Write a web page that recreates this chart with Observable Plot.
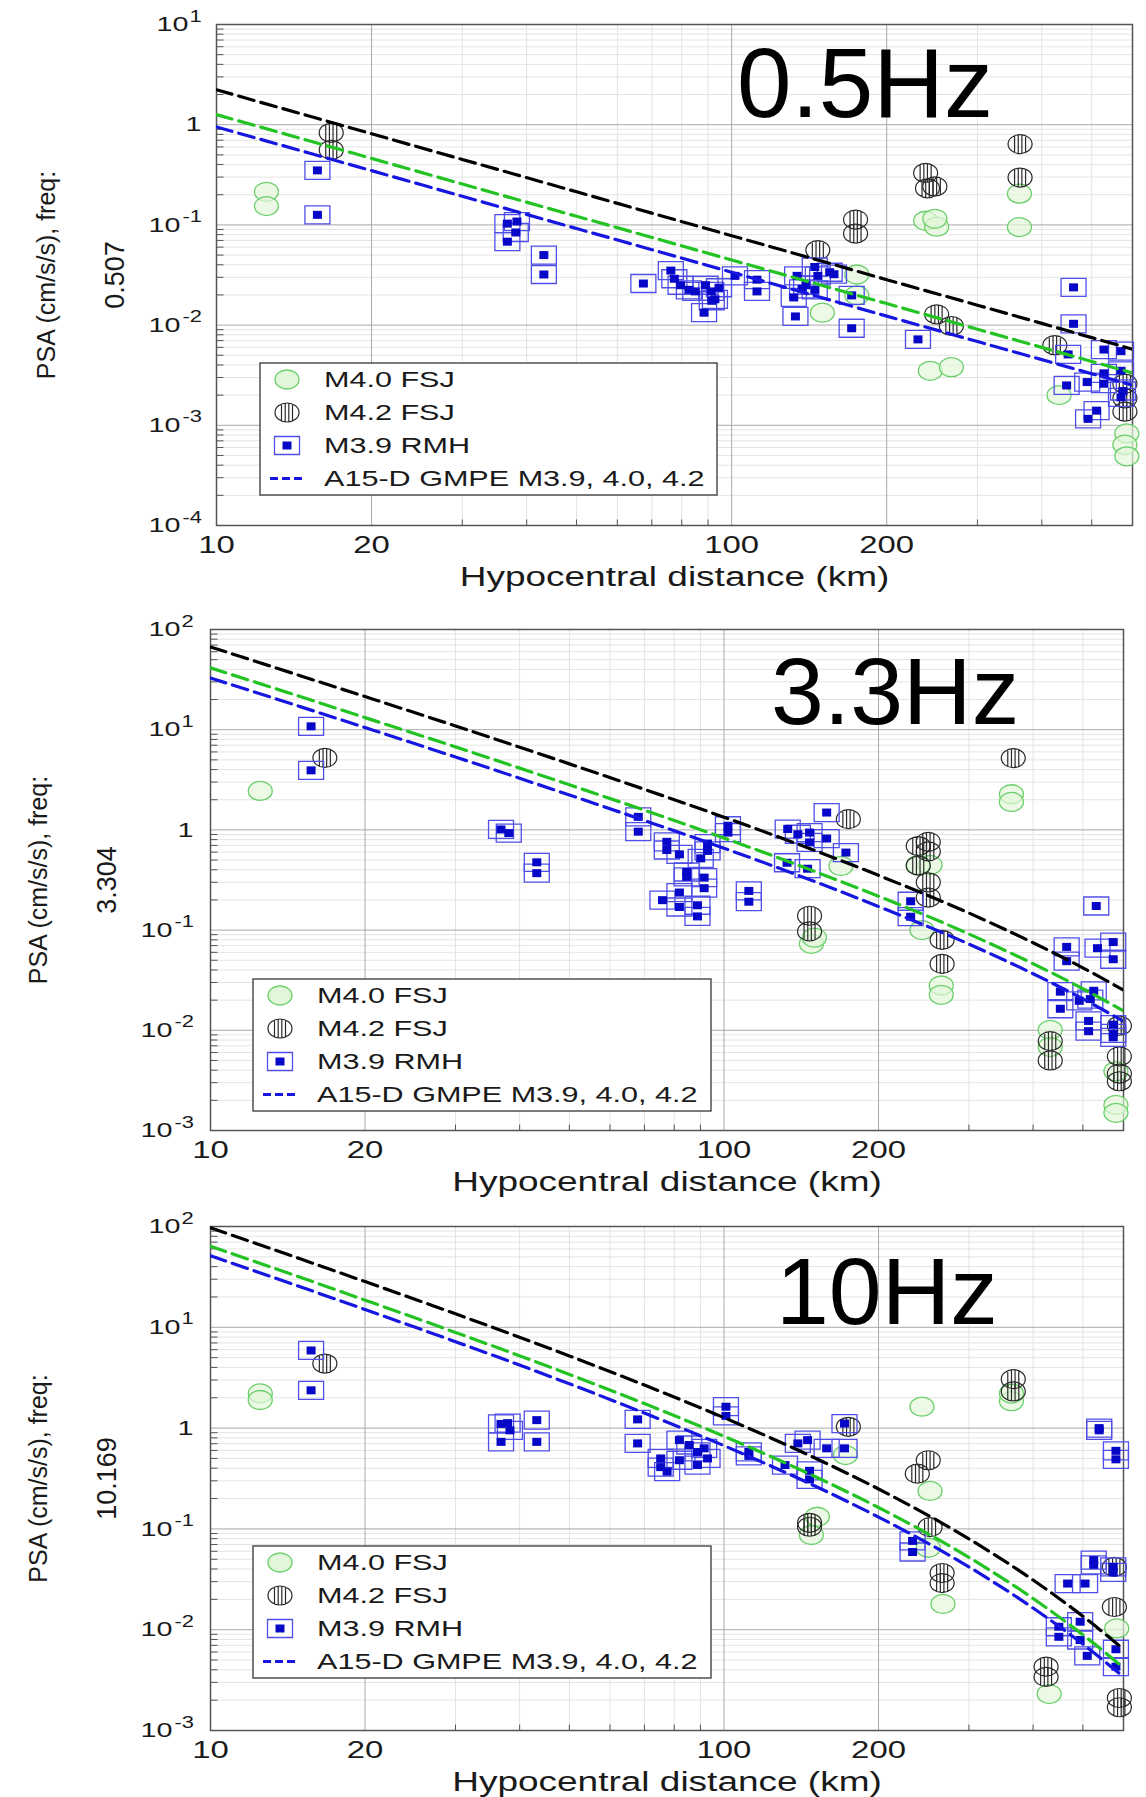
<!DOCTYPE html>
<html><head><meta charset="utf-8">
<script src="https://cdn.jsdelivr.net/npm/d3@7"></script>
<script src="https://cdn.jsdelivr.net/npm/@observablehq/plot@0.6"></script>
<style>
html,body{margin:0;padding:0;background:#fff;}
#root{position:relative;width:1146px;height:1797px;overflow:hidden;font-family:"Liberation Sans",Arial,sans-serif;}
.panel{position:absolute;left:0;}
#overlay{position:absolute;left:0;top:0;pointer-events:none;}
</style></head><body><div id="root"></div>
<script>
// ---------------- DATA ----------------
const xTicks = [10, 20, 100, 200];
const xTickLabels = ["10", "20", "100", "200"];
const xMinorTicks = [30, 40, 50, 60, 70, 80, 90, 300, 400, 500];
const yTicks05 = [1e-4, 1e-3, 1e-2, 1e-1, 1, 10];
const yTicks33 = [1e-3, 1e-2, 1e-1, 1, 10, 100];
const yTicks10 = [1e-3, 1e-2, 1e-1, 1, 10, 100];
const freqLabels = ["0.507", "3.304", "10.169"];
const panelTitles = ["0.5Hz", "3.3Hz", "10Hz"];
const seriesNames = ["M4.0 FSJ", "M4.2 FSJ", "M3.9 RMH", "A15-D GMPE M3.9, 4.0, 4.2"];

// GMPE curves (A15-D), values read at these distances (km)
const gmpeDist = [10, 15, 20, 30, 50, 70, 100, 150, 200, 300, 400, 500, 600];
const gmpe05_M42 = [2.23, 1.235, 0.812, 0.450, 0.214, 0.131, 0.078, 0.0433, 0.0284, 0.0158, 0.0104, 0.0075, 0.00575];
const gmpe05_M40 = [1.26, 0.700, 0.461, 0.256, 0.122, 0.075, 0.0447, 0.0248, 0.0164, 0.00909, 0.00599, 0.00434, 0.00333];
const gmpe05_M39 = [0.95, 0.528, 0.348, 0.193, 0.092, 0.0566, 0.0337, 0.0187, 0.0123, 0.00685, 0.00452, 0.00327, 0.00251];
const gmpe33_M42 = [67, 34.4, 21.4, 10.9, 4.56, 2.54, 1.34, 0.625, 0.352, 0.148, 0.0748, 0.042, 0.0252];
const gmpe33_M40 = [41.4, 21.3, 13.2, 6.74, 2.82, 1.57, 0.83, 0.386, 0.218, 0.0915, 0.0462, 0.026, 0.0156];
const gmpe33_M39 = [32.8, 16.9, 10.5, 5.34, 2.23, 1.24, 0.657, 0.306, 0.172, 0.0725, 0.0367, 0.0206, 0.0123];
const gmpe10_M42 = [97, 47.5, 28.4, 13.6, 5.2, 2.67, 1.27, 0.508, 0.249, 0.0796, 0.0311, 0.0136, 0.0064];
const gmpe10_M40 = [63.6, 31.2, 18.6, 8.9, 3.41, 1.75, 0.83, 0.333, 0.163, 0.0522, 0.0204, 0.0089, 0.0042];
const gmpe10_M39 = [51.2, 25.1, 15.0, 7.2, 2.75, 1.41, 0.67, 0.268, 0.131, 0.042, 0.0164, 0.0072, 0.0034];

// Observations [hypocentral distance km, PSA cm/s/s]
const obs05_M40 = [[12.5,0.214],[12.5,0.154],[150,0.0133],[175,0.032],[175,0.0198],[238,0.110],[250,0.096],[248,0.115],[362,0.205],[362,0.095],[243,0.0035],[267,0.0038],[432,0.0020],[585,0.00083],[580,0.00064],[585,0.00049]];
const obs05_M42 = [[16.7,0.83],[16.7,0.56],[147,0.056],[174,0.113],[174,0.082],[238,0.33],[240,0.232],[248,0.242],[363,0.64],[363,0.297],[250,0.0128],[267,0.0098],[424,0.0063],[580,0.0026],[580,0.00186],[580,0.00137]];
const obs05_M39 = [[15.7,0.35],[15.7,0.126],[36.7,0.103],[38.3,0.108],[38.1,0.084],[36.7,0.068],[43.2,0.050],[43.2,0.032],[67.4,0.026],[76.2,0.035],[77.4,0.029],[79.6,0.025],[82.6,0.0225],[85,0.0217],[89,0.025],[91.3,0.0217],[92.8,0.0181],[88.4,0.0133],[94.5,0.0236],[91.5,0.0175],[101.5,0.031],[112,0.0284],[112,0.0217],[132,0.0189],[133,0.0122],[134,0.031],[137,0.023],[139.5,0.025],[145,0.038],[147,0.031],[155,0.0337],[158,0.0322],[145,0.0225],[171,0.0198],[171,0.0093],[230,0.0072],[461,0.0238],[461,0.0103],[450,0.0051],[447,0.0025],[528,0.0057],[570,0.0055],[490,0.0027],[528,0.0026],[575,0.0022],[570,0.0019],[511,0.0014],[492,0.00116],[528,0.0033],[570,0.0035]];

const obs33_M40 = [[12.5,2.45],[148,0.073],[150,0.084],[169,0.437],[363,2.27],[363,1.9],[252,0.447],[239,0.447],[243,0.1],[265,0.028],[265,0.0226],[432,0.0101],[432,0.0068],[580,0.0039],[580,0.0018],[580,0.0015]];
const obs33_M42 = [[16.7,5.23],[174.7,1.28],[146.8,0.139],[146.8,0.097],[239,0.69],[250,0.76],[239,0.44],[250,0.61],[250,0.30],[250,0.211],[266,0.080],[266,0.046],[366,5.2],[432,0.0078],[432,0.0050],[589,0.0111],[589,0.0055],[589,0.0037],[589,0.0031]];
const obs33_M39 = [[15.7,10.8],[15.7,3.93],[36.8,1.01],[38.1,0.93],[43.2,0.475],[43.2,0.37],[68.1,1.35],[68.1,0.96],[77.4,0.76],[77.4,0.63],[81.9,0.57],[84.6,0.38],[84.6,0.34],[75.9,0.199],[81.9,0.237],[81.9,0.17],[88.8,0.177],[88.8,0.137],[91.5,0.334],[91.5,0.262],[92.9,0.73],[92.9,0.617],[90.1,0.52],[101.8,1.1],[101.8,0.94],[111.8,0.246],[111.8,0.192],[133.1,1.02],[139.3,0.905],[146.8,0.94],[146.8,0.75],[158.5,1.49],[158.5,0.82],[132.7,0.47],[145.5,0.41],[172.8,0.594],[231,0.194],[231,0.136],[531,0.174],[465,0.068],[465,0.049],[534,0.066],[573,0.076],[573,0.0512],[452,0.0243],[452,0.0164],[492,0.0197],[517,0.0205],[525,0.0248],[513,0.0124],[513,0.0098],[573,0.0114],[573,0.0093],[573,0.0085]];

const obs10_M40 = [[12.5,2.21],[12.5,1.9],[148,0.087],[152,0.132],[172.5,0.54],[243,1.63],[363,1.85],[363,2.2],[252,0.238],[250,0.065],[267,0.018],[430,0.0023],[582,0.0103]];
const obs10_M42 = [[16.7,4.37],[146.8,0.115],[146.8,0.105],[174.7,1.03],[366,3.06],[366,2.31],[250,0.48],[238,0.353],[252,0.104],[266,0.0365],[266,0.029],[424,0.0043],[424,0.0034],[576,0.0168],[576,0.042],[589,0.0021],[589,0.0017]];
const obs10_M39 = [[15.7,5.89],[15.7,2.37],[36.8,1.1],[36.8,0.73],[37.9,1.12],[38.3,0.95],[43.2,1.2],[43.2,0.73],[67.9,1.22],[67.9,0.705],[75.3,0.50],[75.3,0.41],[77.5,0.37],[81.9,0.76],[81.9,0.48],[85.6,0.68],[88.8,0.58],[88.8,0.43],[91.5,0.63],[92.9,0.5],[100.9,1.63],[100.9,1.32],[111.8,0.58],[111.8,0.53],[131.5,0.43],[139.3,0.705],[145.5,0.76],[146.8,0.377],[146.8,0.31],[158.5,0.63],[171.7,1.11],[171.7,0.63],[233,0.076],[233,0.059],[538,1.0],[538,0.95],[580,0.595],[580,0.49],[467,0.0287],[525,0.049],[525,0.044],[505,0.0287],[573,0.042],[573,0.037],[449,0.0107],[449,0.0085],[494,0.0120],[494,0.0079],[510,0.0055],[580,0.0064],[580,0.0043]];

// ---------------- STYLE ----------------
const FONT = '"Liberation Sans", Arial, sans-serif';
const SX = 1.37; // horizontal stretch of the original figure's text
const C = {green: "#22c322", greenStroke: "#6ccf6c", greenFill: "#e2f6da", black: "#000000", hatch: "#2a2a2a",
           blue: "#1616e0", boxStroke: "#4f4fe8", inner: "#0707c8", major: "#a9a9a9", minor: "#e4e4e4", frame: "#555"};

// symbols
function ellipsePath(ctx, rx, ry) {
  const k = 0.5523;
  ctx.moveTo(rx, 0);
  ctx.bezierCurveTo(rx, k*ry, k*rx, ry, 0, ry);
  ctx.bezierCurveTo(-k*rx, ry, -rx, k*ry, -rx, 0);
  ctx.bezierCurveTo(-rx, -k*ry, -k*rx, -ry, 0, -ry);
  ctx.bezierCurveTo(k*rx, -ry, rx, -k*ry, rx, 0);
  ctx.closePath();
}
const RX = 12, RY = 9.5;
const circleSym = {draw(ctx) { ellipsePath(ctx, RX, RY); }};
const hatchSym = {draw(ctx) {
  ellipsePath(ctx, RX, RY);
  for (const x of [-5.5, -1.8, 1.8, 5.5]) { const h = RY*Math.sqrt(1 - (x/RX)**2); ctx.moveTo(x, -h); ctx.lineTo(x, h); }
}};
const boxSym = {draw(ctx) { ctx.rect(-12.5, -9, 25, 18); }};
const innerSym = {draw(ctx) { ctx.rect(-4.5, -4, 9, 8); }};
const tickRightSym = {draw(ctx) { ctx.moveTo(0, 0); ctx.lineTo(7, 0); }};
const tickUpSym = {draw(ctx) { ctx.moveTo(0, 0); ctx.lineTo(0, -6); }};

function minorY(lo, hi) {
  const out = [];
  for (let e = Math.round(Math.log10(lo)); e < Math.round(Math.log10(hi)); e++)
    for (let m = 2; m <= 9; m++) out.push(m * Math.pow(10, e));
  return out;
}

const panels = [
  {top: 0, height: 600, mt: 24, mb: 75, ml: 216, mr: 14, yTicks: yTicks05, yShift: 0,
   g: [gmpe05_M42, gmpe05_M40, gmpe05_M39], obs: [obs05_M40, obs05_M42, obs05_M39], freq: freqLabels[0],
   title: panelTitles[0], titleX: 737, titleY: 117, titleSize: 98, legend: {x: 260, y: 363, w: 457, h: 132}},
  {top: 600, height: 600, mt: 29, mb: 70, ml: 210, mr: 23, yTicks: yTicks33, yShift: -2,
   g: [gmpe33_M42, gmpe33_M40, gmpe33_M39], obs: [obs33_M40, obs33_M42, obs33_M39], freq: freqLabels[1],
   title: panelTitles[1], titleX: 771, titleY: 724, titleSize: 95, legend: {x: 253, y: 979, w: 458, h: 132}},
  {top: 1200, height: 597, mt: 26, mb: 67, ml: 210, mr: 23, yTicks: yTicks10, yShift: -2,
   g: [gmpe10_M42, gmpe10_M40, gmpe10_M39], obs: [obs10_M40, obs10_M42, obs10_M39], freq: freqLabels[2],
   title: panelTitles[2], titleX: 776, titleY: 1324, titleSize: 95, legend: {x: 253, y: 1546, w: 458, h: 132}}
];

const root = document.getElementById("root");

panels.forEach(p => {
  const yDom = [p.yTicks[0], p.yTicks[p.yTicks.length - 1]];
  const yMinor = minorY(yDom[0], yDom[1]);
  const lineColors = [C.black, C.green, C.blue];
  const lines = p.g.map((vals, i) => gmpeDist.map((d, j) => ({d, v: vals[j], k: i})));
  const one = p.yTicks.filter(t => Math.abs(t - 1) < 1e-12);
  const pos = p.yTicks.filter(t => t > 1.5);
  const neg = p.yTicks.filter(t => t < 0.9);
  const exp = t => String(Math.round(Math.log10(t)));
  const s = p.yShift;
  const tickTxt = {x: () => 10, y: d => d, fontSize: 21, fill: "#1a1a1a", lineAnchor: "middle"};

  const chart = Plot.plot({
    width: 1146, height: p.height,
    marginTop: p.mt, marginBottom: p.mb, marginLeft: p.ml, marginRight: p.mr,
    x: {type: "log", domain: [10, 600], axis: null},
    y: {type: "log", domain: yDom, axis: null},
    style: {fontFamily: FONT, background: "transparent", overflow: "visible", color: "#1a1a1a"},
    marks: [
      Plot.ruleY(yMinor, {stroke: C.minor, strokeWidth: 1}),
      Plot.ruleX(xMinorTicks, {stroke: C.minor, strokeWidth: 1}),
      Plot.ruleY(p.yTicks, {stroke: C.major, strokeWidth: 1}),
      Plot.ruleX(xTicks.slice(1), {stroke: C.major, strokeWidth: 1}),
      Plot.dot(yMinor, {x: () => 10, y: d => d, symbol: tickRightSym, stroke: C.frame, strokeWidth: 1}),
      Plot.dot(xMinorTicks, {x: d => d, y: () => yDom[0], symbol: tickUpSym, stroke: C.frame, strokeWidth: 1}),
      Plot.frame({stroke: C.frame, strokeWidth: 1.5}),
      // observations
      Plot.dot(p.obs[0], {x: d => d[0], y: d => d[1], symbol: circleSym, fill: C.greenFill, fillOpacity: 0.7, stroke: C.greenStroke, strokeWidth: 1.3}),
      Plot.dot(p.obs[1], {x: d => d[0], y: d => d[1], symbol: hatchSym, fill: "none", stroke: C.hatch, strokeWidth: 1.2}),
      Plot.dot(p.obs[2], {x: d => d[0], y: d => d[1], symbol: boxSym, fill: "none", stroke: C.boxStroke, strokeWidth: 1.3}),
      Plot.dot(p.obs[2], {x: d => d[0], y: d => d[1], symbol: innerSym, fill: C.inner, stroke: "none"}),
      // GMPE lines
      ...lines.map((rows, i) => Plot.line(rows, {x: "d", y: "v", stroke: lineColors[i], strokeWidth: 3.2,
        strokeDasharray: "16,7", curve: "monotone-x", clip: true})),
      // y tick labels
      Plot.text(one, {...tickTxt, text: () => "1", textAnchor: "end", dx: -15 + s}),
      Plot.text(pos, {...tickTxt, text: () => "10", textAnchor: "end", dx: -28 + s}),
      Plot.text(pos, {...tickTxt, text: exp, textAnchor: "start", dx: -27 + s, dy: -8, fontSize: 16}),
      Plot.text(neg, {...tickTxt, text: () => "10", textAnchor: "end", dx: -36 + s}),
      Plot.text(neg, {...tickTxt, text: exp, textAnchor: "start", dx: -34 + s, dy: -8, fontSize: 16}),
      // x tick labels
      Plot.text(xTicks, {x: d => d, y: () => yDom[0], text: (d, i) => xTickLabels[i], textAnchor: "middle", lineAnchor: "middle", dy: 20, fontSize: 24, fill: "#1a1a1a"}),
      // axis titles
      Plot.text(["Hypocentral distance (km)"], {frameAnchor: "bottom", text: d => d, textAnchor: "middle", lineAnchor: "middle", dy: 52, fontSize: 27, fill: "#1a1a1a"}),
      Plot.text(["PSA (cm/s/s), freq:"], {frameAnchor: "left", text: d => d, rotate: -90, textAnchor: "middle", lineAnchor: "middle", dx: -170 + s, fontSize: 25, fill: "#1a1a1a"}),
      Plot.text([p.freq], {frameAnchor: "left", text: d => d, rotate: -90, textAnchor: "middle", lineAnchor: "middle", dx: -101 + s, fontSize: 27, fill: "#1a1a1a"})
    ]
  });
  const div = document.createElement("div");
  div.className = "panel";
  div.style.top = p.top + "px";
  div.appendChild(chart);
  root.appendChild(div);
  chart.querySelectorAll("text").forEach(t => {
    const tr = t.getAttribute("transform");
    if (!tr || tr.includes("rotate")) return;
    t.setAttribute("transform", tr + ` scale(${SX},1)`);
  });
});

// ---------------- OVERLAY: legends and frequency labels ----------------
const ov = d3.select(root).append("svg").attr("id", "overlay").attr("width", 1146).attr("height", 1797)
  .style("font-family", FONT);

panels.forEach(p => {
  const L = p.legend;
  const g = ov.append("g").attr("transform", `translate(${L.x},${L.y})`);
  g.append("rect").attr("width", L.w).attr("height", L.h).attr("fill", "#fff").attr("stroke", "#444").attr("stroke-width", 1.4);
  const rows = [16.5, 49.5, 82.5, 115.5];
  const sx = 27, tx = 64;
  const sym = (type) => d3.symbol().type(type)();
  g.append("path").attr("transform", `translate(${sx},${rows[0]})`).attr("d", sym(circleSym))
    .attr("fill", C.greenFill).attr("stroke", C.greenStroke).attr("stroke-width", 1.3);
  g.append("path").attr("transform", `translate(${sx},${rows[1]})`).attr("d", sym(hatchSym))
    .attr("fill", "none").attr("stroke", C.hatch).attr("stroke-width", 1.2);
  g.append("path").attr("transform", `translate(${sx},${rows[2]})`).attr("d", sym(boxSym))
    .attr("fill", "none").attr("stroke", C.boxStroke).attr("stroke-width", 1.3);
  g.append("path").attr("transform", `translate(${sx},${rows[2]})`).attr("d", sym(innerSym)).attr("fill", C.inner);
  g.append("line").attr("x1", sx - 17).attr("x2", sx + 16).attr("y1", rows[3]).attr("y2", rows[3])
    .attr("stroke", C.blue).attr("stroke-width", 3).attr("stroke-dasharray", "8,4");
  seriesNames.forEach((name, i) => {
    g.append("text").attr("transform", `translate(${tx},${rows[i]}) scale(1.39,1)`).attr("dy", "0.36em")
      .attr("font-size", 22).attr("fill", "#1a1a1a").text(name);
  });
  ov.append("text").attr("x", p.titleX).attr("y", p.titleY).attr("font-size", p.titleSize)
    .attr("fill", "#000").text(p.title);
});
</script></body></html>
